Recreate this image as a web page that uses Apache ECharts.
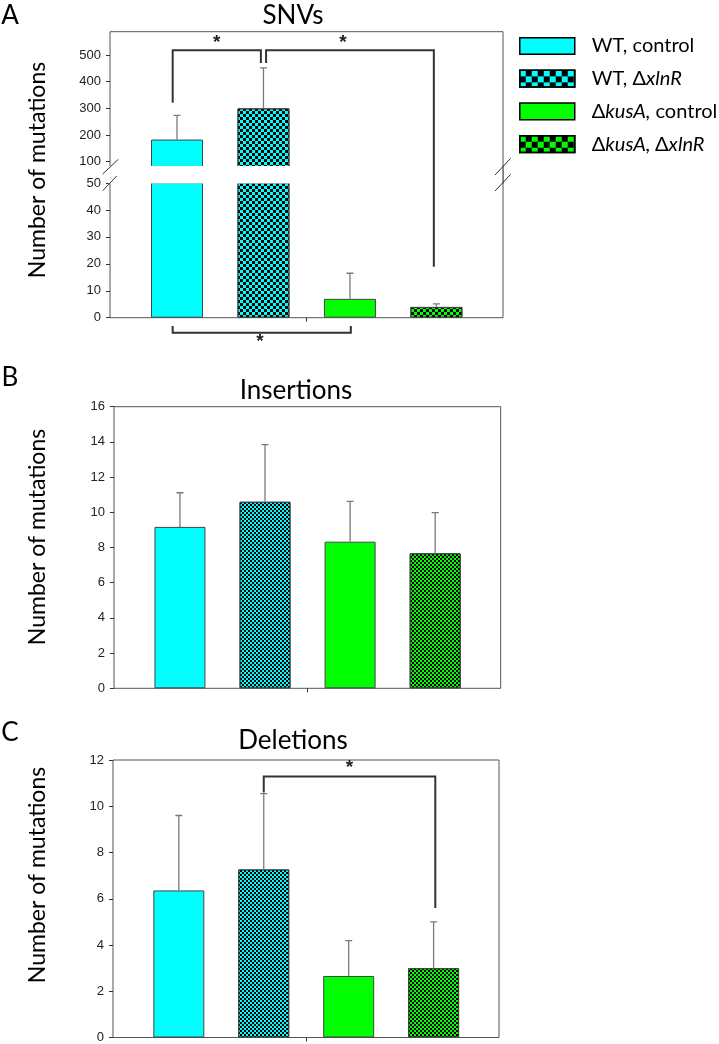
<!DOCTYPE html>
<html><head><meta charset="utf-8">
<script src="https://cdn.jsdelivr.net/npm/echarts@6/dist/echarts.min.js"></script>
<style>html,body{margin:0;padding:0;background:#fff}#c{width:719px;height:1044px}</style>
</head><body><div id="c"></div>
<script>
// ---------- data ----------
const groups = ['WT, control', 'WT, ΔxlnR', 'ΔkusA, control', 'ΔkusA, ΔxlnR'];
const xPos = [1, 2, 3, 4];
const snvMean = [183, 300, 7, 4];
const snvSD = [91, 152, 9.5, 1.1];
const insMean = [9.17, 10.6, 8.33, 7.67];
const insSD = [1.94, 3.24, 2.29, 2.31];
const delMean = [6.36, 7.27, 2.66, 3.0];
const delSD = [3.24, 3.28, 1.53, 2.0];
const snvUpperTicks = [100, 200, 300, 400, 500];
const panelTitles = ['SNVs', 'Insertions', 'Deletions'];
const yName = 'Number of mutations';

// ---------- styles ----------
const fills = ['#00FFFF', '#00FFFF', '#00FF00', '#00FF00'];
const checkered = [false, true, false, true];
function checker(s) {
  return { symbol: 'rect', symbolSize: 1, color: '#000', rotation: 0,
    dashArrayX: [[s, s], [0, s, s, 0]], dashArrayY: [s, 0] };
}
const SANS = 'Lato';
const NUM = 'Liberation Sans';
const XMIN = 0.225, XMAX = 4.77;

const chart = echarts.init(document.getElementById('c'), null, { renderer: 'canvas' });

function xAx(grid, tick) {
  return { type: 'value', gridIndex: grid, min: XMIN, max: XMAX, show: !!tick,
    axisLine: { show: false }, splitLine: { show: false }, axisLabel: { show: false },
    axisTick: { show: !!tick, customValues: [2.5], length: 4, inside: false, lineStyle: { color: '#333' } } };
}
function yAx(grid, min, max, interval, custom) {
  const a = { type: 'value', gridIndex: grid, min: min, max: max,
    axisLine: { show: false }, splitLine: { show: false },
    axisTick: { show: true, length: 4, lineStyle: { color: '#333' } },
    axisLabel: { fontFamily: NUM, fontSize: 13, color: '#222', margin: 9 } };
  if (interval) a.interval = interval;
  if (custom) { a.axisLabel.customValues = custom; a.axisTick.customValues = custom; }
  return a;
}
function bars(mean, axisIdx, decalSize, bw) {
  return groups.map((name, i) => ({
    type: 'bar', name: name, xAxisIndex: axisIdx, yAxisIndex: axisIdx,
    data: [[xPos[i], mean[i]]], barWidth: bw, barGap: '-100%', clip: true,
    itemStyle: Object.assign({ color: fills[i], borderColor: '#444', borderWidth: 1 },
      checkered[i] ? { decal: checker(decalSize) } : {}),
    emphasis: { disabled: true }, silent: true
  }));
}
function errRender(params, api) {
  const x = api.value(0), m = api.value(1), t = api.value(2);
  const p0 = api.coord([x, m]), p1 = api.coord([x, t]);
  const cap = 7, st = { stroke: '#7a7a7a', lineWidth: 1.3 };
  return { type: 'group', children: [
    { type: 'line', shape: { x1: p0[0], y1: p0[1], x2: p1[0], y2: p1[1] }, style: st },
    { type: 'line', shape: { x1: p1[0] - cap / 2, y1: p1[1], x2: p1[0] + cap / 2, y2: p1[1] }, style: st }
  ] };
}
function errs(mean, sd, axisIdx) {
  return { type: 'custom', xAxisIndex: axisIdx, yAxisIndex: axisIdx, clip: true, z: 5, silent: true,
    renderItem: errRender, data: mean.map((m, i) => [xPos[i], m, m + sd[i]]) };
}

const legendFmt = {
  'WT, control': '{n|WT, control}',
  'WT, ΔxlnR': '{n|WT, Δ}{i|xlnR}',
  'ΔkusA, control': '{n|Δ}{i|kusA,}{n| control}',
  'ΔkusA, ΔxlnR': '{n|Δ}{i|kusA, }{n|Δ}{i|xlnR}'
};

const option = {
  animation: false,
  backgroundColor: '#fff',
  grid: [
    { left: 110, top: 31.7, width: 393, height: 286, show: true, borderColor: '#555', borderWidth: 1, backgroundColor: 'transparent' },
    { left: 110, top: 31.7, width: 393, height: 135, show: false },
    { left: 110, top: 183, width: 393, height: 134.7, show: false },
    { left: 114, top: 406.7, width: 386.7, height: 281.6, show: true, borderColor: '#555', borderWidth: 1 },
    { left: 113, top: 760, width: 386, height: 277.7, show: true, borderColor: '#555', borderWidth: 1 }
  ],
  xAxis: [
    { type: 'value', gridIndex: 0, min: XMIN, max: XMAX, show: false },
    xAx(1, false), xAx(2, true), xAx(3, true), xAx(4, true)
  ],
  yAxis: [
    { type: 'value', gridIndex: 0, min: 0, max: 1, show: false },
    yAx(1, 81.25, 587.5, null, snvUpperTicks),
    yAx(2, 0, 50, 10),
    yAx(3, 0, 16, 2),
    yAx(4, 0, 12, 2)
  ],
  legend: {
    orient: 'vertical', left: 519, top: 36, padding: 0,
    itemWidth: 55, itemHeight: 16.7, itemGap: 12.7, icon: 'rect',
    itemStyle: { borderColor: '#000', borderWidth: 1.5 },
    data: groups.map((g, i) => ({ name: g, itemStyle: checkered[i] ? { decal: checker(6) } : {} })),
    formatter: name => legendFmt[name],
    textStyle: { padding: [0, 0, 0, 12], lineHeight: 20,
      rich: { n: { fontFamily: SANS, fontSize: 20, color: '#000', lineHeight: 20 },
              i: { fontFamily: SANS, fontSize: 20, color: '#000', fontStyle: 'italic', lineHeight: 20 } } },
    selectedMode: false
  },
  series: [].concat(
    bars(snvMean, 1, 3, 52), bars(snvMean, 2, 3, 52),
    [errs(snvMean, snvSD, 1), errs(snvMean, snvSD, 2)],
    bars(insMean, 3, 2, 51), [errs(insMean, insSD, 3)],
    bars(delMean, 4, 2, 51), [errs(delMean, delSD, 4)]
  )
};
chart.setOption(option);

// ---------- annotations (positions from the chart's own scales) ----------
const P = (g, x, y) => chart.convertToPixel({ gridIndex: g }, [x, y]);
const gfx = [];
const lineSt = { stroke: '#333', lineWidth: 2, fill: null };
function bracket(pts) { gfx.push({ type: 'polyline', shape: { points: pts }, style: lineSt, z: 10 }); }
function star(p) {
  gfx.push({ type: 'text', x: p[0], y: p[1], z: 10,
    style: { text: '*', font: 'bold 19px "Liberation Sans"', fill: '#222', align: 'center', verticalAlign: 'middle' } });
}
function txt(s, x, y, font, rot) {
  gfx.push({ type: 'text', x: x, y: y, rotation: rot || 0, z: 10,
    style: { text: s, font: font, fill: '#000', align: 'center', verticalAlign: 'middle' } });
}

// axis break in panel A: white gap cutting the bars, and the slashes
const bl = P(1, XMIN, 81.25), tl = P(2, XMIN, 50), br = P(1, XMAX, 81.25), tr = P(2, XMAX, 50);
gfx.push({ type: 'rect', z: 8, shape: { x: bl[0] - 1.5, y: bl[1] - 0.6, width: br[0] - bl[0] + 1, height: tl[1] - bl[1] + 1.2 }, style: { fill: '#fff' } });
const brk = { stroke: '#333', lineWidth: 1 };
[[bl, -7.3, 7.3, 8.3, -7.4], [tl, -7.3, 7.7, 6.7, -7], [br, -8, 8.3, 7.7, -8.4], [tr, -8, 8, 7.7, -8.7]].forEach(s => {
  gfx.push({ type: 'line', z: 10, shape: { x1: s[0][0] + s[1], y1: s[0][1] + s[2], x2: s[0][0] + s[3], y2: s[0][1] + s[4] }, style: brk });
});
// right frame border stays continuous across the break
gfx.push({ type: 'line', z: 9, shape: { x1: br[0], y1: br[1] - 1, x2: tr[0], y2: tr[1] + 1 }, style: { stroke: '#555', lineWidth: 1 } });

// Panel A brackets
bracket([P(1, 0.95, 321), P(1, 0.95, 518), P(1, 1.97, 518), P(1, 1.97, 470)]);
bracket([P(1, 2.03, 470), P(1, 2.03, 518), P(1, 3.97, 518), P(2, 3.97, 18.9)]);
star(P(1, 1.46, 547)); star(P(1, 2.92, 547));
bracket([P(2, 0.95, -3.1), P(2, 0.95, -5.6), P(2, 3.01, -5.6), P(2, 3.01, -3.1)]);
star(P(2, 1.96, -8.9));
// Panel C bracket
bracket([P(4, 2.0, 10.6), P(4, 2.0, 11.29), P(4, 4.02, 11.29), P(4, 4.02, 5.6)]);
star(P(4, 3.01, 11.65));

// titles, panel letters, axis names
const titleFont = '26px "' + SANS + '"';
txt(panelTitles[0], 293, 16, titleFont);
txt(panelTitles[1], 296, 391, titleFont);
txt(panelTitles[2], 293, 741, titleFont);
const letterFont = '26px "' + SANS + '"';
txt('A', 10, 16, letterFont); txt('B', 10, 378, letterFont); txt('C', 10, 733, letterFont);
const nameFont = '23px "' + SANS + '"';
txt(yName, 38, 170, nameFont, Math.PI / 2);
txt(yName, 38, 537, nameFont, Math.PI / 2);
txt(yName, 38, 875, nameFont, Math.PI / 2);

chart.setOption({ graphic: { elements: gfx } });
</script></body></html>
